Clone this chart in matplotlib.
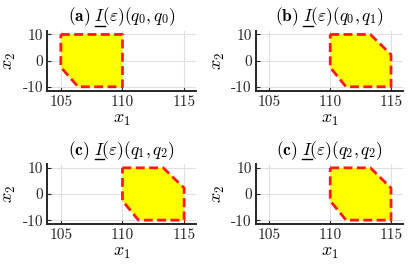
import matplotlib
matplotlib.use("Agg")
import matplotlib.pyplot as plt
from matplotlib.lines import Line2D

plt.rcParams['mathtext.fontset'] = 'cm'
plt.rcParams['font.family'] = ['cmr10', 'DejaVu Serif']
plt.rcParams['axes.unicode_minus'] = False
plt.rcParams['axes.formatter.use_mathtext'] = True

# panel labels and state pairs
panel_tags = ['(a)', '(b)', '(c)', '(c)']
state_pairs = ['q_0,q_0', 'q_0,q_1', 'q_1,q_2', 'q_2,q_2']

# polygon vertices (x1, x2)
poly_x = [
    [105, 110, 110, 106.4, 105, 105],
    [110, 113.3, 115, 115, 111.3, 110],
    [110, 113.3, 115, 115, 111.3, 110],
    [110, 113.3, 115, 115, 111.3, 110],
]
poly_y = [
    [10, 10, -10, -10, -2.5, 10],
    [10, 10, 2.3, -10, -10, -2.6],
    [10, 10, 2.3, -10, -10, -2.6],
    [10, 10, 2.3, -10, -10, -2.6],
]

xticks = [105, 110, 115]
yticks = [-10, 0, 10]
xtick_labels = ['105', '110', '115']
ytick_labels = ['-10', '0', '10']

fig = plt.figure(figsize=(4.11, 2.70), dpi=100)

boxes = [
    [0.115, 0.664, 0.363, 0.221],
    [0.623, 0.664, 0.358, 0.221],
    [0.115, 0.170, 0.363, 0.221],
    [0.623, 0.170, 0.358, 0.221],
]

title_fs = 12.5
titles = []
for i in range(4):
    ax = fig.add_axes(boxes[i])
    ax.fill(poly_x[i], poly_y[i], facecolor=(1, 1, 0), edgecolor='none', zorder=2)
    ax.plot(poly_x[i] + [poly_x[i][0]], poly_y[i] + [poly_y[i][0]], color=(1, 0.1, 0.1),
            linestyle=(0, (3.2, 1.6)), linewidth=2, zorder=3)
    ax.set_xlim(103.9, 116.0)
    ax.set_ylim(-11.5, 11.3)
    ax.set_xticks(xticks)
    ax.set_xticklabels(xtick_labels, fontsize=11)
    ax.set_yticks(yticks)
    ax.set_yticklabels(ytick_labels, fontsize=11)
    ax.grid(True, color=(0.88, 0.88, 0.88), linewidth=0.8, zorder=0)
    ax.set_axisbelow(True)
    for s in ['top', 'right']:
        ax.spines[s].set_visible(False)
    for s in ['left', 'bottom']:
        ax.spines[s].set_color((0.15, 0.15, 0.15))
        ax.spines[s].set_linewidth(1.4)
    ax.tick_params(direction='in', length=3, width=0.8, colors=(0.15, 0.15, 0.15), pad=3)
    ax.set_xlabel(r'$x_1$', fontsize=13, labelpad=3)
    ax.set_ylabel(r'$x_2$', fontsize=13, labelpad=3)
    t = ax.set_title(r'$\mathbf{' + panel_tags[i] + r'}\ I(\varepsilon)(' + state_pairs[i] + ')$',
                     fontsize=title_fs, pad=7)
    titles.append(t)

# mathtext has no \underline, so draw the bar under I by hand
fig.canvas.draw()
r = fig.canvas.get_renderer()
W, H = fig.bbox.width, fig.bbox.height
for i, t in enumerate(titles):
    bb = t.get_window_extent(r)
    pre = fig.text(0, 0, r'$\mathbf{' + panel_tags[i] + r'}\ I$', fontsize=title_fs)
    one = fig.text(0, 0, r'$I$', fontsize=title_fs)
    w_pre = pre.get_window_extent(r).width
    w_one = one.get_window_extent(r).width
    pre.remove()
    one.remove()
    x1 = bb.x0 + w_pre
    x0 = x1 - w_one
    y = bb.y0 + 2.2
    fig.add_artist(Line2D([x0 / W, (x1 - 1) / W], [y / H, y / H], color='black', linewidth=1.0))

fig.savefig('out.png', dpi=100)
